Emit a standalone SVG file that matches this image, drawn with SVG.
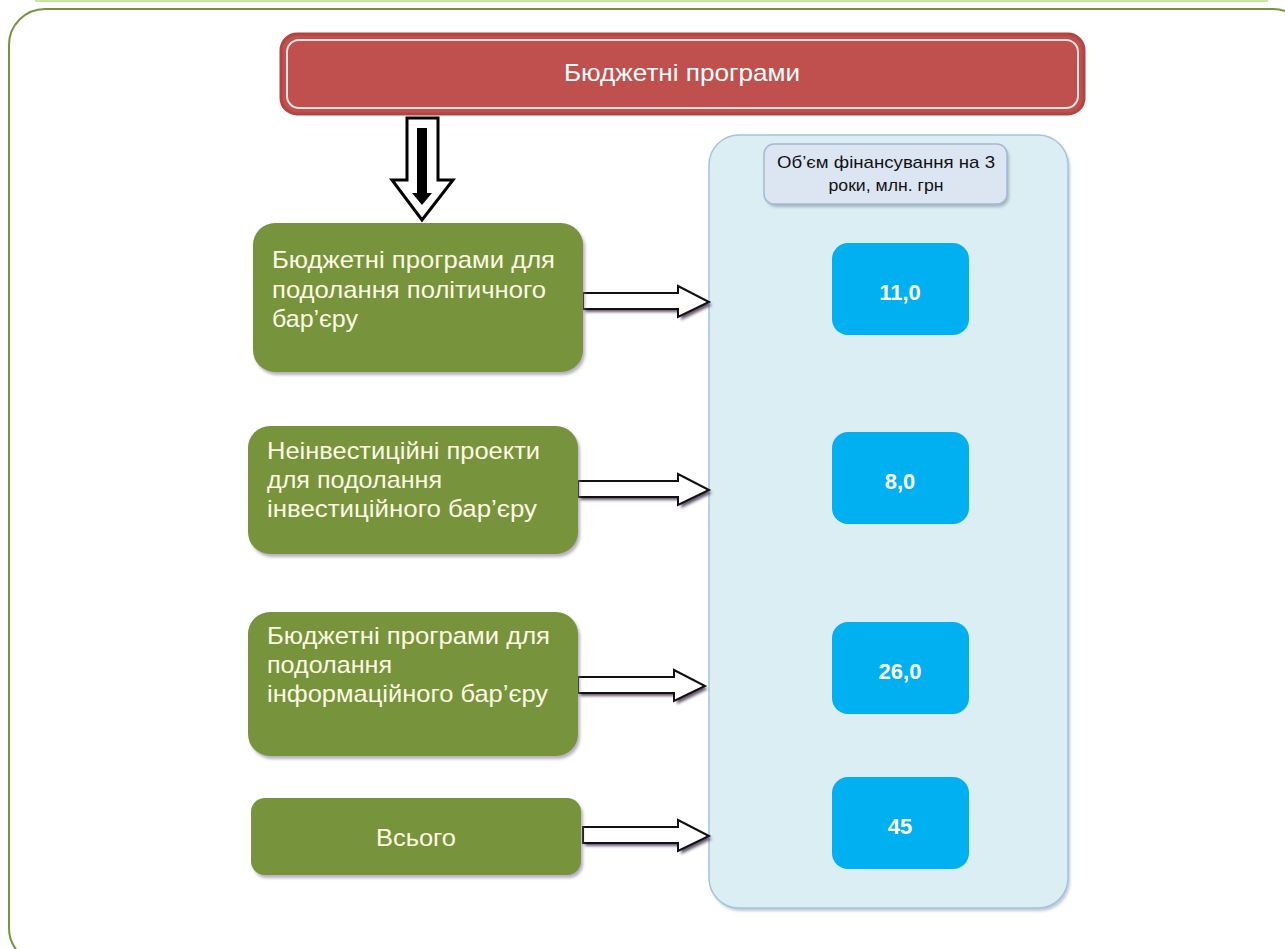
<svg xmlns="http://www.w3.org/2000/svg" width="1285" height="949" viewBox="0 0 1285 949">
<defs>
<style>
.green{fill:#77933c;}
.gshadow{fill:#7d6f8e;opacity:0.55;}
.gtext{font-family:"Liberation Sans",Arial,sans-serif;font-size:24px;fill:#fdfbe4;}
.blue{fill:#00b0f0;}
.btext{font-family:"Liberation Sans",Arial,sans-serif;font-size:22px;font-weight:bold;fill:#ffffff;text-anchor:middle;}
.rarrow{fill:#ffffff;stroke:#111111;stroke-width:2;stroke-linejoin:miter;}
.rshadow{fill:#3a2a4a;opacity:0.8;}
</style>
<filter id="soft" x="-10%" y="-10%" width="120%" height="120%"><feGaussianBlur stdDeviation="1.5"/></filter>
</defs>
<rect width="1285" height="949" fill="#ffffff"/>
<line x1="35" y1="1" x2="1268" y2="1" stroke="#c6e6a4" stroke-width="2"/>
<rect id="frame" x="9" y="9" width="1300" height="955" rx="36" fill="none" stroke="#77933c" stroke-width="2"/>

<g id="header">
<rect x="281" y="34" width="803" height="80" rx="16" fill="#c0504d" stroke="#b04542" stroke-width="3"/>
<rect x="287" y="40" width="791" height="68" rx="12" fill="none" stroke="#f5e4e4" stroke-width="2"/>
<text x="682" y="81" text-anchor="middle" font-family="'Liberation Sans',Arial,sans-serif" font-size="24" fill="#ffffff" textLength="236" lengthAdjust="spacingAndGlyphs">Бюджетні програми</text>
</g>

<g id="panel">
<rect x="711" y="138" width="359" height="773" rx="30" fill="#8ea2bd" opacity="0.6" filter="url(#soft)"/>
<rect x="709" y="135" width="359" height="773" rx="30" fill="#daeef3" stroke="#a7c3dc" stroke-width="1.5"/>
</g>

<g id="panel-title">
<rect x="766" y="147" width="243" height="60" rx="10" fill="#7f8fa8" opacity="0.6" filter="url(#soft)"/>
<rect x="764" y="144" width="243" height="60" rx="10" fill="#dce6f2" stroke="#a6b8d2" stroke-width="1.5"/>
<text x="886" y="168" text-anchor="middle" font-family="'Liberation Sans',Arial,sans-serif" font-size="17" fill="#111111" textLength="218" lengthAdjust="spacingAndGlyphs">Об’єм фінансування на 3</text>
<text x="886" y="191" text-anchor="middle" font-family="'Liberation Sans',Arial,sans-serif" font-size="17" fill="#111111" textLength="115" lengthAdjust="spacingAndGlyphs">роки, млн. грн</text>
</g>

<g id="connectors">
<g id="down-arrow">
<path d="M407,118 H438 V180 H453 L422,220 L392,180 H407 Z" fill="#ffffff" stroke="#000000" stroke-width="3" stroke-linejoin="miter"/>
<path d="M417,128 H427 V193 H432 L422,205 L412,193 H417 Z" fill="#000000"/>
</g>
<g id="arrow1">
<path d="M585,296 H681 V289 L712,305 L681,320 V312 H585 Z" class="rshadow" filter="url(#soft)"/>
<path d="M583,293 H678 V286 L709,302 L678,317 V309 H583 Z" class="rarrow"/>
</g>
<g id="arrow2">
<path d="M580,484 H681 V477 L712,493 L681,508 V500 H580 Z" class="rshadow" filter="url(#soft)"/>
<path d="M578,481 H678 V474 L709,490 L678,505 V497 H578 Z" class="rarrow"/>
</g>
<g id="arrow3">
<path d="M580,680 H677 V673 L708,689 L677,704 V696 H580 Z" class="rshadow" filter="url(#soft)"/>
<path d="M578,677 H674 V670 L705,686 L674,701 V693 H578 Z" class="rarrow"/>
</g>
<g id="arrow4">
<path d="M585,830 H681 V823 L712,839 L681,854 V846 H585 Z" class="rshadow" filter="url(#soft)"/>
<path d="M583,827 H678 V820 L709,836 L678,851 V843 H583 Z" class="rarrow"/>
</g>
</g>

<g id="node1">
<rect x="255" y="226" width="330" height="149" rx="22" class="gshadow" filter="url(#soft)"/>
<rect x="253" y="223" width="330" height="149" rx="22" class="green"/>
<text class="gtext" x="272" y="268" textLength="283" lengthAdjust="spacingAndGlyphs">Бюджетні програми для</text>
<text class="gtext" x="272" y="298" textLength="274" lengthAdjust="spacingAndGlyphs">подолання політичного</text>
<text class="gtext" x="272" y="327" textLength="86" lengthAdjust="spacingAndGlyphs">бар’єру</text>
</g>

<g id="node2">
<rect x="250" y="429" width="330" height="128" rx="22" class="gshadow" filter="url(#soft)"/>
<rect x="248" y="426" width="330" height="128" rx="22" class="green"/>
<text class="gtext" x="267" y="459" textLength="273" lengthAdjust="spacingAndGlyphs">Неінвестиційні проекти</text>
<text class="gtext" x="267" y="488" textLength="175" lengthAdjust="spacingAndGlyphs">для подолання</text>
<text class="gtext" x="267" y="517" textLength="270" lengthAdjust="spacingAndGlyphs">інвестиційного бар’єру</text>
</g>

<g id="node3">
<rect x="250" y="615" width="330" height="144" rx="22" class="gshadow" filter="url(#soft)"/>
<rect x="248" y="612" width="330" height="144" rx="22" class="green"/>
<text class="gtext" x="267" y="644" textLength="283" lengthAdjust="spacingAndGlyphs">Бюджетні програми для</text>
<text class="gtext" x="267" y="673" textLength="125" lengthAdjust="spacingAndGlyphs">подолання</text>
<text class="gtext" x="267" y="702" textLength="281" lengthAdjust="spacingAndGlyphs">інформаційного бар’єру</text>
</g>

<g id="node4">
<rect x="253" y="801" width="330" height="77" rx="14" class="gshadow" filter="url(#soft)"/>
<rect x="251" y="798" width="330" height="77" rx="14" class="green"/>
<text class="gtext" x="416" y="846" text-anchor="middle" textLength="80" lengthAdjust="spacingAndGlyphs">Всього</text>
</g>

<g id="value1">
<rect x="832" y="243" width="137" height="92" rx="16" class="blue"/>
<text class="btext" x="900" y="300">11,0</text>
</g>
<g id="value2">
<rect x="832" y="432" width="137" height="92" rx="16" class="blue"/>
<text class="btext" x="900" y="489">8,0</text>
</g>
<g id="value3">
<rect x="832" y="622" width="137" height="92" rx="16" class="blue"/>
<text class="btext" x="900" y="679">26,0</text>
</g>
<g id="value4">
<rect x="832" y="777" width="137" height="92" rx="16" class="blue"/>
<text class="btext" x="900" y="834">45</text>
</g>
</svg>
